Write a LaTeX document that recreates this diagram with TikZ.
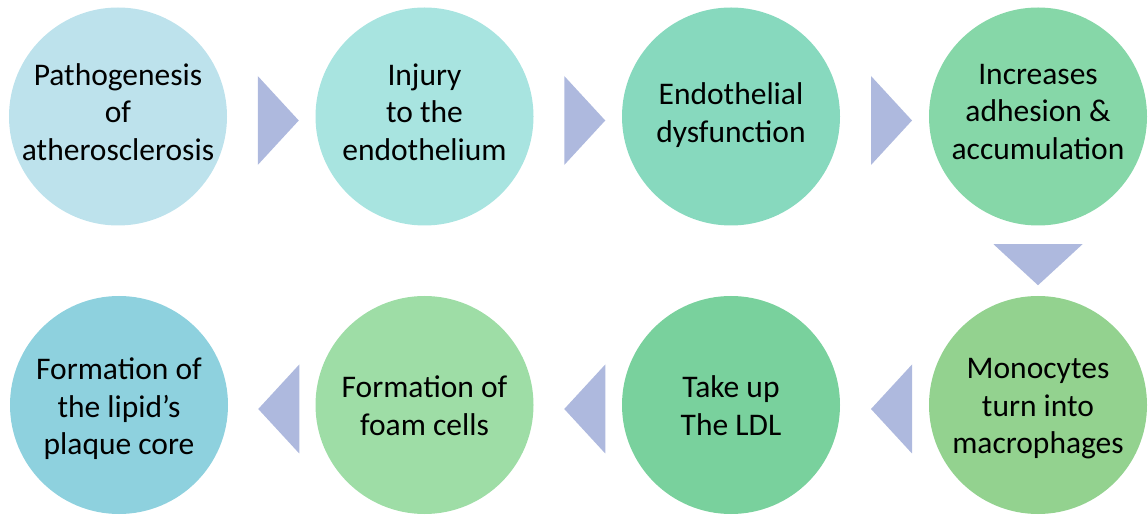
\documentclass[tikz,border=0pt]{standalone}
\usepackage{fontspec}
\setmainfont{Carlito}
\usetikzlibrary{calc}

\definecolor{patho}{HTML}{BDE2EC}
\definecolor{injury}{HTML}{A8E4E0}
\definecolor{dysfn}{HTML}{87D9BE}
\definecolor{adhesion}{HTML}{86D7A8}
\definecolor{mono}{HTML}{93D28F}
\definecolor{ldl}{HTML}{79D19D}
\definecolor{foam}{HTML}{9EDDA6}
\definecolor{core}{HTML}{8ED1DE}
\definecolor{arrowblue}{HTML}{AEB9DE}

\begin{document}
\begin{tikzpicture}[x=1pt,y=1pt]
    \tikzset{
        stepcircle/.style={circle, minimum size=218pt, inner sep=0pt},
        steptext/.style={align=center, inner sep=0pt, font=\fontsize{31.5}{37.5}\selectfont},
        chevron/.pic={\fill[arrowblue] (-20.5,-44.5) -- (20.5,0) -- (-20.5,44.5) -- cycle;}
    }
    \useasboundingbox (0,0) rectangle (1148,514);

    % --- 1. TOP ROW ---
    \node[stepcircle, fill=patho, label={[steptext, yshift=4.5pt]center:{Pathogenesis\\of\\atherosclerosis}}]
        (patho) at (118,397.5) {};
    \node[stepcircle, fill=injury, label={[steptext, yshift=4.5pt]center:{Injury\\to the\\endothelium}}]
        (injury) at (424.5,397.5) {};
    \node[stepcircle, fill=dysfn, label={[steptext, yshift=1.5pt]center:{Endothelial\\dysfunction}}]
        (dysfn) at (731,397.5) {};
    \node[stepcircle, fill=adhesion, label={[steptext, yshift=4.5pt]center:{Increases\\adhesion \&\\accumulation}}]
        (adhesion) at (1038,397.5) {};

    % --- 2. BOTTOM ROW (right to left) ---
    \node[stepcircle, fill=mono, label={[steptext, yshift=-4pt]center:{Monocytes\\turn into\\macrophages}}]
        (mono) at (1038,109) {};
    \node[stepcircle, fill=ldl, label={[steptext, yshift=-0.5pt]center:{Take up\\The LDL}}]
        (ldl) at (731,109) {};
    \node[stepcircle, fill=foam, label={[steptext, yshift=-0.5pt]center:{Formation of\\foam cells}}]
        (foam) at (424.5,109) {};
    \node[stepcircle, fill=core, label={[steptext, yshift=-4pt]center:{Formation of\\the lipid’s\\plaque core}}]
        (core) at (119,109) {};

    % --- 3. CHEVRONS ---
    \foreach \a/\b in {patho/injury, injury/dysfn, dysfn/adhesion} {
        \pic at ($(\a)!0.5!(\b)+(7,-4)$) {chevron};
    }
    \pic[rotate=-90] at ($(adhesion)!0.5!(mono)+(0,-4)$) {chevron};
    \foreach \a/\b in {mono/ldl, ldl/foam, foam/core} {
        \pic[rotate=180] at ($(\a)!0.5!(\b)+(7,-4)$) {chevron};
    }

\end{tikzpicture}
\end{document}
